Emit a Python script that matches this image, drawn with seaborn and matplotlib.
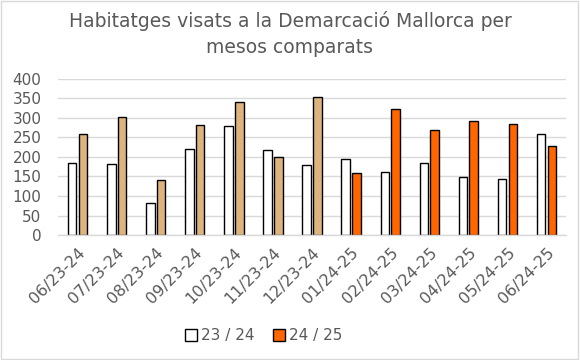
import matplotlib
matplotlib.use("Agg")
import matplotlib.pyplot as plt
import seaborn as sns
import pandas as pd
from matplotlib.patches import Rectangle, Patch

months = ["06/23-24", "07/23-24", "08/23-24", "09/23-24", "10/23-24", "11/23-24",
          "12/23-24", "01/24-25", "02/24-25", "03/24-25", "04/24-25", "05/24-25", "06/24-25"]
series_names = ["23 / 24", "24 / 25"]
vals_2324 = [184, 182, 81, 220, 279, 218, 179, 194, 161, 184, 148, 143, 259]
vals_2425 = [259, 302, 140, 282, 341, 200, 354, 158, 323, 269, 292, 284, 228]
yticks = [0, 50, 100, 150, 200, 250, 300, 350, 400]

WHITE = "#ffffff"
TAN = "#deb47e"
ORANGE = "#ff6600"
GRAY_TXT = "#595959"
GRID = "#d9d9d9"
n_tan = 7  # first months of 24/25 drawn in tan

df = pd.DataFrame({
    "mes": months * 2,
    "serie": [series_names[0]] * len(months) + [series_names[1]] * len(months),
    "valor": vals_2324 + vals_2425,
})

sns.set_theme(style="white")
plt.rcParams["font.family"] = ["DejaVu Sans"]

fig = plt.figure(figsize=(5.8, 3.6), dpi=100)
ax = fig.add_axes([0.1, 0.347, 0.876, 0.434])

sns.barplot(data=df, x="mes", y="valor", hue="serie", order=months,
            hue_order=series_names, palette=[WHITE, ORANGE], saturation=1,
            width=0.55, gap=0.2, edgecolor="black", linewidth=1.0, ax=ax, legend=False)

for i, bar in enumerate(ax.containers[1]):
    bar.set_facecolor(TAN if i < n_tan else ORANGE)

ax.set_ylim(0, 400)
ax.set_xlim(-0.5, len(months) - 0.5)
ax.set_yticks(yticks)
ax.yaxis.grid(True, color=GRID, linewidth=1.0)
ax.set_axisbelow(True)
for s in ["top", "right", "left"]:
    ax.spines[s].set_visible(False)
ax.spines["bottom"].set_color(GRID)
ax.spines["bottom"].set_linewidth(1.0)
ax.set_xlabel("")
ax.set_ylabel("")
ax.tick_params(axis="y", length=0, pad=12, labelsize=11, labelcolor=GRAY_TXT)
ax.tick_params(axis="x", length=0, pad=7, labelsize=11.5, labelcolor=GRAY_TXT)
plt.setp(ax.get_xticklabels(), rotation=45, ha="right", rotation_mode="anchor")

fig.text(0.5, 0.905, "Habitatges visats a la Demarcació Mallorca per\nmesos comparats",
         ha="center", va="center", fontsize=13.5, color=GRAY_TXT, linespacing=1.45)

handles = [Patch(facecolor=WHITE, edgecolor="black", linewidth=1.0),
           Patch(facecolor=ORANGE, edgecolor="black", linewidth=1.0)]
fig.legend(handles, series_names, loc="center", bbox_to_anchor=(0.455, 0.067),
           ncol=2, frameon=False, fontsize=11, labelcolor=GRAY_TXT,
           handlelength=0.75, handleheight=0.75, handletextpad=0.3, columnspacing=1.2)

fig.patches.append(Rectangle((0.002, 0.003), 0.995, 0.994, transform=fig.transFigure,
                             fill=False, edgecolor=GRID, linewidth=1.0))

fig.savefig("out.png", dpi=100)
